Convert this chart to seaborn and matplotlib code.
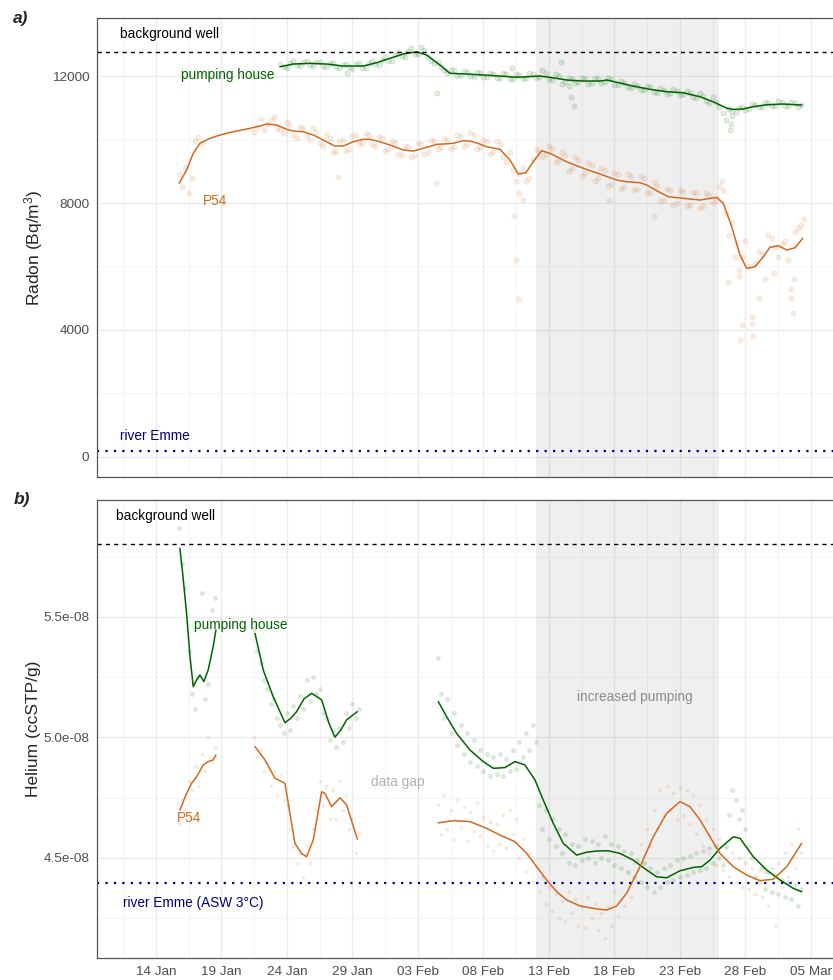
import matplotlib
matplotlib.use("Agg")
import matplotlib.pyplot as plt
import matplotlib.dates as mdates
import numpy as np
import pandas as pd
import seaborn as sns

# time is stored as days after 1 Jan 2019
BASE = pd.Timestamp("2019-01-01")

# ---- Radon, pumping house (smoothed line) ----
rn_ph_line_days = [22.47, 23.48, 24.76, 26.03, 27.30, 28.82, 29.85, 30.86, 31.88, 32.90,
                   33.66, 34.68, 35.44, 36.74, 39.26, 40.56, 42.31, 43.08, 44.37, 45.60,
                   46.89, 47.43, 49.41, 50.71, 52.01, 53.23, 54.53, 55.52, 56.59, 57.05,
                   57.81, 58.57, 59.64, 60.86, 62.31]
rn_ph_line = [12293, 12378, 12400, 12378, 12315, 12315, 12419, 12558, 12693, 12765,
              12662, 12347, 12085, 12063, 12000, 11959, 12000, 11959, 11874, 11843,
              11843, 11874, 11685, 11581, 11506, 11474, 11348, 11191, 10983, 10951,
              10961, 11033, 11096, 11118, 11087]
# measurements, every 12 h from day 22.5 and from day 22.75
rn_ph_start = 22.5
rn_ph_pts = [12380, 12250, 12460, 12330, 12480, 12320, 12440, 12300, 12420, 12250,
             12380, 12220, 12400, 12260, 12470, 12360, 12600, 12480, 12750, 12600,
             12880, 12700, 12820, 12480, 12450, 12180, 12200, 12010, 12150, 11990,
             12120, 11960, 12090, 11930, 12080, 11920, 12050, 11900, 12080, 11930,
             12200, 11900, 12050, 11750, 11950, 11780, 11950, 11760, 11930, 11790,
             11950, 11720, 11830, 11640, 11760, 11560, 11680, 11500, 11620, 11430,
             11580, 11400, 11540, 11330, 11480, 11200, 11350, 11020, 10600, 10900,
             11000, 10920, 11120, 11010, 11170, 11050, 11200, 11060, 11190, 11040]
rn_ph_start2 = 22.75
rn_ph_pts2 = [12300, 12420, 12350, 12440, 12360, 12450, 12330, 12400, 12290, 12360,
              12270, 12370, 12250, 12400, 12380, 12520, 12480, 12650, 12620, 12780,
              12700, 12900, 12600, 12400, 12300, 12100, 12180, 12030, 12120, 11980,
              12100, 11960, 12070, 11950, 12060, 11900, 12020, 11940, 12050, 11960,
              12100, 11880, 11990, 11820, 11920, 11800, 11900, 11790, 11920, 11820,
              11900, 11730, 11780, 11620, 11700, 11550, 11640, 11480, 11570, 11450,
              11540, 11420, 11470, 11310, 11380, 11160, 11180, 10850, 10950, 10880,
              11020, 10960, 11080, 11020, 11150, 11060, 11170, 11070, 11160, 11080]
rn_ph_odd_days = [34.45, 43.9, 44.5, 44.7, 44.9, 56.8, 56.9, 57.0, 27.6, 40.2]
rn_ph_odd = [11450, 12450, 11700, 11350, 11050, 10300, 10500, 10750, 12080, 12250]

# ---- Radon, P54 ----
rn_p54_line_days = [14.78, 15.34, 15.85, 16.36, 17.12, 17.89, 18.90, 20.18, 20.94, 21.45,
                    22.21, 22.98, 23.48, 24.24, 25.01, 25.77, 26.66, 27.30, 28.06, 28.82,
                    29.34, 30.10, 30.86, 31.88, 32.64, 33.40, 34.43, 34.93, 35.69, 36.46,
                    36.97, 37.73, 38.24, 39.26, 40.02, 40.66, 41.24, 41.80, 42.44, 43.08,
                    44.35, 45.62, 46.89, 48.17, 48.93, 49.95, 50.46, 51.22, 52.11, 53.25,
                    54.53, 55.80, 56.31, 56.95, 57.58, 58.09, 58.73, 59.36, 59.87, 60.50,
                    61.15, 61.78, 62.37]
rn_p54_line = [8620, 9039, 9565, 9880, 10038, 10141, 10245, 10353, 10425, 10488,
               10457, 10321, 10268, 10245, 10141, 9984, 9795, 9795, 9930, 10006,
               10006, 9930, 9827, 9669, 9637, 9722, 9848, 9858, 9880, 9962,
               9953, 9858, 9773, 9691, 9354, 8913, 8954, 9300, 9647, 9565,
               9300, 9093, 8913, 8724, 8670, 8639, 8567, 8387, 8198, 8148,
               8094, 8179, 7990, 7253, 6362, 5942, 5993, 6308, 6604, 6654,
               6519, 6591, 6888]
# first burst every 6 h from day 14.75, then every 12 h from days 20.5 and 20.75
rn_p54_start_a = 14.75
rn_p54_pts_a = [8900, 8500, 9100, 8300, 8800, 9950, 10080, 9900]
rn_p54_start_b = 20.5
rn_p54_pts_b = [10250, 10650, 10500, 10700, 10300, 10550, 10150, 10400, 10100, 10350,
                9900, 10150, 9600, 9950, 9650, 10100, 9850, 10200, 9850, 10100,
                9650, 9950, 9550, 9800, 9450, 9900, 9550, 10000, 9700, 10050,
                9700, 10150, 9800, 10200, 9700, 10000, 9550, 9950, 9450, 9600,
                8700, 9100, 8800, 9700, 9450, 9800, 9300, 9600, 9000, 9450,
                8850, 9250, 8700, 9100, 8550, 8950, 8450, 8900, 8400, 8850,
                8350, 8650, 8050, 8450, 7950, 8400, 7900, 8350, 7850, 8300,
                8000, 8550, 7700, 7400, 5900, 6800, 4400, 6500, 5600, 6900,
                6300, 6800, 5300, 7200, 7500]
rn_p54_start_c = 20.75
rn_p54_pts_c = [10400, 10300, 10600, 10350, 10200, 10450, 10050, 10350, 10000, 10250,
                9800, 10050, 9650, 10000, 9700, 10150, 9900, 10150, 9800, 10050,
                9700, 9900, 9500, 9750, 9500, 9850, 9600, 9950, 9750, 10000,
                9750, 10100, 9850, 10150, 9750, 9950, 9600, 9850, 9300, 9050,
                8900, 8700, 9400, 9600, 9550, 9700, 9350, 9500, 9100, 9350,
                8950, 9200, 8800, 9050, 8600, 8900, 8500, 8850, 8450, 8800,
                8300, 8550, 8100, 8400, 8000, 8350, 7950, 8300, 7900, 8250,
                8100, 8400, 7000, 6700, 6300, 6000, 6100, 6400, 7000, 6600,
                6700, 6200, 7100, 7300]
rn_p54_odd_days = [26.9, 34.4, 40.3, 40.45, 40.6, 40.75, 41.0, 47.6, 51.0, 56.2,
                   56.7, 57.2, 57.5, 57.6, 57.7, 58.5, 58.6, 59.0, 60.2, 61.5,
                   61.6, 61.7]
rn_p54_odd = [8830, 8630, 7600, 6200, 4980, 8300, 8100, 8100, 7600, 8700,
              5500, 6300, 5700, 3700, 4150, 4200, 3800, 5000, 5800, 5000,
              4550, 5600]

rn_background = 12760
rn_river = 190

# ---- Helium (ccSTP/g, in units of 1e-8) ----
he_ph_line_days = [[14.83, 15.04, 15.34, 15.60, 15.85, 16.11, 16.36, 16.66, 16.99, 17.37, 17.58],
                   [20.56, 21.19, 21.95, 22.85, 23.30, 23.74, 24.30, 24.89, 25.65, 26.20,
                    26.66, 27.10, 27.56, 28.37],
                   [34.55, 35.19, 35.95, 36.97, 37.98, 38.75, 39.64, 40.40, 41.17, 41.93,
                    42.56, 43.33, 44.09, 45.11, 45.88, 46.64, 47.53, 48.42, 49.44, 50.46,
                    51.22, 51.98, 53.00, 54.02, 54.66, 55.29, 56.05, 57.07, 57.58, 58.60,
                    59.62, 60.63, 61.65, 62.29]]
he_ph_line = [[5.785, 5.681, 5.515, 5.335, 5.211, 5.239, 5.259, 5.232, 5.280, 5.377, 5.446],
              [5.432, 5.280, 5.169, 5.061, 5.080, 5.107, 5.160, 5.183, 5.156, 5.060,
               5.001, 5.030, 5.073, 5.107],
              [5.149, 5.086, 5.017, 4.948, 4.900, 4.872, 4.875, 4.900, 4.886, 4.824,
               4.741, 4.644, 4.561, 4.512, 4.524, 4.529, 4.530, 4.519, 4.491, 4.450,
               4.422, 4.418, 4.447, 4.461, 4.464, 4.491, 4.540, 4.588, 4.582, 4.505,
               4.450, 4.409, 4.374, 4.360]]
he_p54_line_days = [[14.83, 15.34, 15.72, 16.11, 16.61, 16.99, 17.37, 17.58],
                    [20.56, 21.32, 22.08, 22.85, 23.23, 23.61, 24.12, 24.50, 25.01, 25.65,
                     25.90, 26.41, 27.05, 27.56, 28.37],
                    [34.55, 35.69, 36.97, 38.24, 39.26, 40.40, 41.30, 42.06, 42.82, 43.59,
                     44.35, 45.37, 46.38, 47.40, 48.17, 48.93, 49.95, 50.96, 51.98, 53.00,
                     53.76, 54.53, 55.29, 56.05, 57.07, 58.09, 59.11, 60.13, 61.15, 62.29]]
he_p54_line = [[4.699, 4.768, 4.810, 4.837, 4.886, 4.900, 4.907, 4.927],
               [4.962, 4.907, 4.831, 4.810, 4.685, 4.561, 4.519, 4.505, 4.575, 4.775,
                4.768, 4.713, 4.750, 4.720, 4.578],
               [4.646, 4.655, 4.651, 4.623, 4.595, 4.568, 4.519, 4.464, 4.409, 4.360,
                4.326, 4.301, 4.291, 4.284, 4.301, 4.354, 4.464, 4.588, 4.685, 4.734,
                4.713, 4.658, 4.588, 4.519, 4.464, 4.429, 4.406, 4.412, 4.464, 4.561]]

# measurements every 6 h; each block starts on the given day
he_starts = [14.75, 20.5, 34.5]
he_ph_pts = [[5.87, 5.72, 5.62, 5.36, 5.18, 5.12, 5.25, 5.60, 5.16, 5.22, 5.53, 5.58],
             [5.45, 5.36, 5.31, 5.24, 5.20, 5.14, 5.16, 5.08, 5.05, 5.02, 5.10, 5.03,
              5.13, 5.08, 5.17, 5.12, 5.24, 5.15, 5.25, 5.18, 5.20, 5.10, 5.08, 4.99,
              5.03, 4.96, 5.04, 4.98, 5.10, 5.04, 5.14, 5.08, 5.12],
             [5.33, 5.18, 5.08, 5.16, 5.02, 5.10, 4.97, 5.05,
              4.93, 5.02, 4.90, 4.99, 4.88, 4.95, 4.86, 4.93,
              4.84, 4.92, 4.85, 4.93, 4.84, 4.91, 4.86, 4.95,
              4.87, 4.98, 4.92, 5.02, 4.95, 5.05, 4.98, 4.72,
              4.62, 4.70, 4.58, 4.66, 4.55, 4.62, 4.52, 4.60,
              4.48, 4.56, 4.47, 4.55, 4.49, 4.58, 4.50, 4.57,
              4.48, 4.56, 4.50, 4.59, 4.49, 4.56, 4.47, 4.55,
              4.46, 4.53, 4.44, 4.52, 4.42, 4.49, 4.40, 4.48,
              4.38, 4.46, 4.36, 4.44, 4.38, 4.46, 4.40, 4.47,
              4.41, 4.49, 4.42, 4.50, 4.43, 4.51, 4.44, 4.52,
              4.45, 4.53, 4.46, 4.54, 4.48, 4.55, 4.50, 4.47,
              4.55, 4.68, 4.78, 4.74, 4.66, 4.70, 4.62, 4.55,
              4.50, 4.42, 4.40, 4.46, 4.37, 4.44, 4.36, 4.43,
              4.35, 4.41, 4.34, 4.40, 4.33, 4.39, 4.30, 4.37]]
he_p54_pts = [[4.64, 4.74, 4.70, 4.82, 4.78, 4.88, 4.80, 4.93, 4.86, 5.00, 4.90, 4.96],
              [5.00, 4.92, 4.95, 4.86, 4.90, 4.80, 4.86, 4.76, 4.84, 4.74, 4.72, 4.62,
               4.55, 4.48, 4.52, 4.42, 4.55, 4.48, 4.62, 4.70, 4.82, 4.72, 4.80, 4.66,
               4.78, 4.66, 4.82, 4.70, 4.76, 4.62, 4.66, 4.52, 4.60],
              [4.72, 4.60, 4.76, 4.62, 4.70, 4.58, 4.74, 4.63,
               4.71, 4.57, 4.69, 4.61, 4.73, 4.59, 4.67, 4.55,
               4.65, 4.53, 4.64, 4.56, 4.68, 4.54, 4.70, 4.60,
               4.66, 4.50, 4.58, 4.44, 4.52, 4.40, 4.46, 4.36,
               4.42, 4.31, 4.38, 4.28, 4.35, 4.25, 4.32, 4.24,
               4.36, 4.27, 4.33, 4.22, 4.30, 4.21, 4.34, 4.25,
               4.31, 4.20, 4.27, 4.17, 4.30, 4.22, 4.36, 4.26,
               4.40, 4.30, 4.44, 4.34, 4.48, 4.40, 4.56, 4.48,
               4.62, 4.55, 4.70, 4.62, 4.78, 4.68, 4.80, 4.70,
               4.77, 4.66, 4.79, 4.68, 4.78, 4.64, 4.76, 4.60,
               4.72, 4.55, 4.66, 4.52, 4.62, 4.47, 4.58, 4.45,
               4.54, 4.42, 4.52, 4.40, 4.50, 4.38, 4.48, 4.37,
               4.46, 4.35, 4.45, 4.34, 4.44, 4.30, 4.46, 4.22,
               4.48, 4.38, 4.52, 4.42, 4.56, 4.46, 4.62, 4.52]]
he_background = 5.803
he_river = 4.396

pumping_start, pumping_end = "2019-02-12", "2019-02-26"

GREEN = "#006400"
ORANGE = "#d2691e"
NAVY = "#000080"


def dates(days):
    return BASE + pd.to_timedelta(np.asarray(days, dtype=float), unit="D")


def sampled(start, values, step):
    return pd.date_range(BASE + pd.Timedelta(days=start), periods=len(values), freq=step)


def xnum(d):
    return mdates.date2num(BASE + pd.Timedelta(days=d))


def cloud(ax, x, y, color, s, alpha, lw):
    sns.scatterplot(x=x, y=y, ax=ax, color=color, s=s, alpha=alpha,
                    edgecolor=color, linewidth=lw, legend=False)


sns.set_style("white")
plt.rcParams["font.family"] = ["Liberation Sans", "DejaVu Sans"]
plt.rcParams["mathtext.default"] = "regular"

fig = plt.figure(figsize=(8.33, 9.8), dpi=100)
ax_rn = fig.add_axes([0.1164, 0.5133, 0.9160, 0.4684])
ax_he = fig.add_axes([0.1164, 0.0224, 0.9160, 0.4674])

# ---- panel a: radon ----
RA = 0.12
cloud(ax_rn, sampled(rn_ph_start, rn_ph_pts, "12h"), rn_ph_pts, GREEN, 14, RA, 0.6)
cloud(ax_rn, sampled(rn_ph_start2, rn_ph_pts2, "12h"), rn_ph_pts2, GREEN, 14, RA, 0.6)
cloud(ax_rn, dates(rn_ph_odd_days), rn_ph_odd, GREEN, 14, RA, 0.6)
cloud(ax_rn, sampled(rn_p54_start_a, rn_p54_pts_a, "6h"), rn_p54_pts_a, ORANGE, 14, RA, 0.6)
cloud(ax_rn, sampled(rn_p54_start_b, rn_p54_pts_b, "12h"), rn_p54_pts_b, ORANGE, 14, RA, 0.6)
cloud(ax_rn, sampled(rn_p54_start_c, rn_p54_pts_c, "12h"), rn_p54_pts_c, ORANGE, 14, RA, 0.6)
cloud(ax_rn, dates(rn_p54_odd_days), rn_p54_odd, ORANGE, 14, RA, 0.6)
sns.lineplot(x=dates(rn_ph_line_days), y=rn_ph_line, ax=ax_rn, color=GREEN, lw=1.1, estimator=None)
sns.lineplot(x=dates(rn_p54_line_days), y=rn_p54_line, ax=ax_rn, color=ORANGE, lw=1.1, estimator=None)

ax_rn.axhline(rn_background, color="black", lw=1.0, ls=(0, (3, 3)))
ax_rn.axhline(rn_river, color=NAVY, lw=1.6, ls=(0, (1, 2.8)))
ax_rn.set_ylim(-630, 13830)
ax_rn.set_yticks([0, 4000, 8000, 12000])
ax_rn.set_yticks([2000, 6000, 10000], minor=True)
ax_rn.set_yticklabels(["0", "4000", "8000", "12000"])

ax_rn.text(xnum(10.25), 13320, "background well", color="black", fontsize=9.8, va="center")
ax_rn.text(xnum(14.9), 12030, "pumping house", color=GREEN, fontsize=9.8, va="center")
ax_rn.text(xnum(16.6), 8060, "P54", color=ORANGE, fontsize=9.8, va="center")
ax_rn.text(xnum(10.25), 660, "river Emme", color=NAVY, fontsize=9.8, va="center")

# ---- panel b: helium ----
for k in range(3):
    cloud(ax_he, sampled(he_starts[k], he_ph_pts[k], "6h"), np.array(he_ph_pts[k]) * 1e-8,
          GREEN, 8, 0.13, 0.5)
    cloud(ax_he, sampled(he_starts[k], he_p54_pts[k], "6h"), np.array(he_p54_pts[k]) * 1e-8,
          ORANGE, 5, 0.12, 0.4)
for k in range(3):
    sns.lineplot(x=dates(he_ph_line_days[k]), y=np.array(he_ph_line[k]) * 1e-8, ax=ax_he,
                 color=GREEN, lw=1.1, estimator=None)
    sns.lineplot(x=dates(he_p54_line_days[k]), y=np.array(he_p54_line[k]) * 1e-8, ax=ax_he,
                 color=ORANGE, lw=1.1, estimator=None)

ax_he.axhline(he_background * 1e-8, color="black", lw=1.0, ls=(0, (3, 3)))
ax_he.axhline(he_river * 1e-8, color=NAVY, lw=1.6, ls=(0, (1, 2.8)))
ax_he.set_ylim(4.085e-8, 5.985e-8)
ax_he.set_yticks([4.5e-8, 5.0e-8, 5.5e-8])
ax_he.set_yticks([4.25e-8, 4.75e-8, 5.25e-8, 5.75e-8], minor=True)
ax_he.set_yticklabels(["4.5e-08", "5.0e-08", "5.5e-08"])

ax_he.text(xnum(9.93), 5.92e-8, "background well", color="black", fontsize=9.8, va="center")
ax_he.text(xnum(15.92), 5.467e-8, "pumping house", color=GREEN, fontsize=9.8, va="center")
ax_he.text(xnum(49.53), 5.167e-8, "increased pumping", color="#8c8c8c", fontsize=9.8,
           va="center", ha="center")
ax_he.text(xnum(31.5), 4.814e-8, "data gap", color="#b0b0b0", fontsize=9.8, va="center", ha="center")
ax_he.text(xnum(14.63), 4.667e-8, "P54", color=ORANGE, fontsize=9.8, va="center")
ax_he.text(xnum(10.5), 4.315e-8, "river Emme (ASW 3°C)", color=NAVY, fontsize=9.8, va="center")

# ---- shared styling ----
major = pd.date_range("2019-01-14", "2019-03-05", freq="5D")
minor = pd.date_range("2019-01-11 12:00", "2019-03-07 12:00", freq="5D")
for ax in (ax_rn, ax_he):
    ax.axvspan(mdates.date2num(pd.Timestamp(pumping_start)), mdates.date2num(pd.Timestamp(pumping_end)),
               color="#808080", alpha=0.12, lw=0, zorder=0.8)
    ax.set_xlim(xnum(8.5), xnum(66.74))
    ax.set_xticks(mdates.date2num(major.to_pydatetime()))
    ax.set_xticks(mdates.date2num(minor.to_pydatetime()), minor=True)
    ax.xaxis.set_major_formatter(mdates.DateFormatter("%d %b"))
    ax.set_axisbelow(True)
    ax.grid(True, which="major", color="#ebebeb", lw=1.0)
    ax.grid(True, which="minor", color="#f2f2f2", lw=0.6)
    for sp in ax.spines.values():
        sp.set_color("#555555")
        sp.set_linewidth(0.9)
    ax.tick_params(which="major", length=3.5, width=0.8, color="#333333",
                   labelsize=9.7, labelcolor="#4d4d4d", pad=2)
    ax.tick_params(which="minor", length=0)
    ax.set_xlabel("")
    ax.set_ylabel("")

ax_rn.tick_params(labelbottom=False)

fig.text(0.040, 0.7475, "Radon (Bq/m$^{3}$)", rotation=90, ha="center", va="center", fontsize=12.5)
fig.text(0.040, 0.256, "Helium (ccSTP/g)", rotation=90, ha="center", va="center", fontsize=12.5)
fig.text(0.016, 0.9816, "a)", fontsize=12.5, fontweight="bold", fontstyle="italic", va="center")
fig.text(0.016, 0.4898, "b)", fontsize=12.5, fontweight="bold", fontstyle="italic", va="center")

fig.savefig("out.png", dpi=100)
